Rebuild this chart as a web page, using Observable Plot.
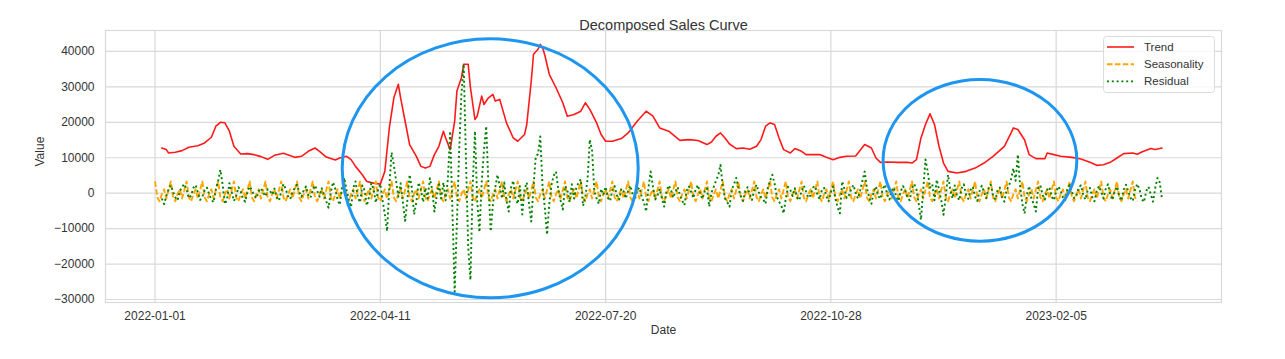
<!DOCTYPE html>
<html>
<head>
<meta charset="utf-8">
<script src="https://cdn.jsdelivr.net/npm/d3@7"></script>
<script src="https://cdn.jsdelivr.net/npm/@observablehq/plot@0.6"></script>
<style>
  body { margin: 0; background: #fff; }
  #chart { width: 1285px; height: 359px; }
</style>
</head>
<body>
<div id="chart"></div>
<script>
// ---------------- DATA ----------------
const startDate = "2022-01-01";
const chartTitle = "Decomposed Sales Curve";
const xLabel = "Date";
const yLabel = "Value";
const xTickLabels = ["2022-01-01", "2022-04-11", "2022-07-20", "2022-10-28", "2023-02-05"];
const yTicks = [-30000, -20000, -10000, 0, 10000, 20000, 30000, 40000];
const seriesNames = ["Trend", "Seasonality", "Residual"];
const seriesColors = ["red", "orange", "green"];

// Trend: day offset from startDate and value
const trendDay = [3, 5, 6, 9, 12, 15, 19, 22, 25, 27, 29, 31, 33, 35, 38, 41, 44, 47, 50, 53,
  57, 62, 65, 68, 71, 73, 76, 80, 82, 85, 87, 89, 92, 94, 97, 100, 102, 104, 106, 108,
  109, 111, 113, 116, 118, 120, 122, 124, 126, 128, 129, 131, 133, 134, 136, 137, 139, 140, 142, 143,
  145, 146, 148, 150, 151, 153, 156, 159, 161, 164, 165, 167, 168, 170, 171, 172, 173, 175, 178, 181,
  183, 186, 189, 191, 193, 196, 198, 200, 203, 207, 210, 214, 218, 221, 224, 228, 233, 237, 241, 245,
  247, 249, 251, 253, 255, 258, 261, 264, 267, 269, 271, 273, 275, 277, 279, 282, 284, 287, 289, 295,
  298, 301, 304, 307, 311, 315, 318, 320, 322, 325, 330, 334, 336, 338, 340, 342, 344, 346, 348, 350,
  352, 356, 360, 364, 368, 372, 377, 380, 381, 383, 386, 388, 391, 395, 396, 399, 402, 407, 411, 415,
  418, 421, 424, 427, 430, 434, 436, 438, 442, 444, 447];
const trendValue = [12750, 12300, 11330, 11530, 12000, 12950, 13400, 14170, 15780, 18900, 20000, 19850, 17480, 13230, 11050, 11150, 10870, 10310, 9550, 10680,
  11250, 10110, 10400, 11810, 12750, 11810, 10200, 9350, 9920, 10400, 9460, 7560, 5210, 3310, 2830, 2550, 6150, 18400, 26900, 30700,
  26900, 20300, 13700, 10400, 7560, 7080, 7560, 10880, 13230, 17480, 15580, 12290, 20300, 28800, 32580, 36370, 36370, 29750, 20790, 21730,
  27390, 25040, 26910, 27870, 25980, 26460, 19830, 15580, 14650, 16540, 19380, 31640, 39200, 40620, 42000, 41000, 39000, 33540, 29750, 25500,
  21730, 22210, 23140, 25500, 23630, 19830, 16540, 14650, 14650, 15410, 17000, 20310, 23140, 21730, 18410, 17480, 14900, 15120, 14840, 13710,
  14450, 16060, 17000, 15580, 13880, 12580, 12750, 12380, 13230, 15120, 18900, 19830, 19380, 15580, 12290, 11330, 12580, 11810, 10880, 10880,
  10110, 9460, 10110, 10400, 10500, 13710, 12750, 9920, 8700, 8780, 8700, 8700, 8500, 9460, 15580, 19380, 22380, 19380, 13230, 8500,
  6150, 5670, 6150, 7080, 8500, 10400, 13230, 17000, 18410, 17960, 15000, 10880, 9750, 9700, 11330, 10880, 10400, 10110, 9630, 8700,
  7850, 8040, 8700, 9920, 11160, 11330, 11000, 11610, 12580, 12300, 12750];

// Seasonality: one value per day, days 0..450 (weekly pattern)
const seasonality = [
  3300,-1200,-2300,-300,1100,-1500,900, 3300,-1200,-2300,-300,1100,-1500,900,
  3300,-1200,-2300,-300,1100,-1500,900, 3300,-1200,-2300,-300,1100,-1500,900,
  3300,-1200,-2300,-300,1100,-1500,900, 3300,-1200,-2300,-300,1100,-1500,900,
  3300,-1200,-2300,-300,1100,-1500,900, 3300,-1200,-2300,-300,1100,-1500,900,
  3300,-1200,-2300,-300,1100,-1500,900, 3300,-1200,-2300,-300,1100,-1500,900,
  3300,-1200,-2300,-300,1100,-1500,900, 3300,-1200,-2300,-300,1100,-1500,900,
  3300,-1200,-2300,-300,1100,-1500,900, 3300,-1200,-2300,-300,1100,-1500,900,
  3300,-1200,-2300,-300,1100,-1500,900, 3300,-1200,-2300,-300,1100,-1500,900,
  3300,-1200,-2300,-300,1100,-1500,900, 3300,-1200,-2300,-300,1100,-1500,900,
  3300,-1200,-2300,-300,1100,-1500,900, 3300,-1200,-2300,-300,1100,-1500,900,
  3300,-1200,-2300,-300,1100,-1500,900, 3300,-1200,-2300,-300,1100,-1500,900,
  3300,-1200,-2300,-300,1100,-1500,900, 3300,-1200,-2300,-300,1100,-1500,900,
  3300,-1200,-2300,-300,1100,-1500,900, 3300,-1200,-2300,-300,1100,-1500,900,
  3300,-1200,-2300,-300,1100,-1500,900, 3300,-1200,-2300,-300,1100,-1500,900,
  3300,-1200,-2300,-300,1100,-1500,900, 3300,-1200,-2300,-300,1100,-1500,900,
  3300,-1200,-2300,-300,1100,-1500,900, 3300,-1200,-2300,-300,1100,-1500,900,
  3300,-1200,-2300,-300,1100,-1500,900, 3300,-1200,-2300,-300,1100,-1500,900,
  3300,-1200,-2300,-300,1100,-1500,900, 3300,-1200,-2300,-300,1100,-1500,900,
  3300,-1200,-2300,-300,1100,-1500,900, 3300,-1200,-2300,-300,1100,-1500,900,
  3300,-1200,-2300,-300,1100,-1500,900, 3300,-1200,-2300,-300,1100,-1500,900,
  3300,-1200,-2300,-300,1100,-1500,900, 3300,-1200,-2300,-300,1100,-1500,900,
  3300,-1200,-2300,-300,1100,-1500,900, 3300,-1200,-2300,-300,1100,-1500,900,
  3300,-1200,-2300,-300,1100,-1500,900, 3300,-1200,-2300,-300,1100,-1500,900,
  3300,-1200,-2300,-300,1100,-1500,900, 3300,-1200,-2300,-300,1100,-1500,900,
  3300,-1200,-2300,-300,1100,-1500,900, 3300,-1200,-2300,-300,1100,-1500,900,
  3300,-1200,-2300,-300,1100,-1500,900, 3300,-1200,-2300,-300,1100,-1500,900,
  3300,-1200,-2300,-300,1100,-1500,900, 3300,-1200,-2300,-300,1100,-1500,900,
  3300,-1200,-2300,-300,1100,-1500,900, 3300,-1200,-2300,-300,1100,-1500,900,
  3300,-1200,-2300,-300,1100,-1500,900, 3300,-1200,-2300,-300,1100,-1500,900,
  3300,-1200,-2300,-300,1100,-1500,900, 3300,-1200,-2300,-300,1100,-1500,900,
  3300,-1200,-2300,-300,1100,-1500,900, 3300,-1200,-2300,-300,1100,-1500,900,
  3300,-1200,-2300
];

// Residual: one value per day, starting at day 3 (through day 447)
const residualStartDay = 3;
const residual = [
  -1500, -3100, -800, 1200, 2200, 400, -1200, -2000, 600, 1800,
  2600, 900, -1400, -700, 1500, 2300, 200, -1900, -1000, 800,
  1600, -300, -1800, -2600, 1200, 3500, 6600, 2400, -3100, -1500,
  2800, 400, -2200, -900, 1700, 600, -1600, -2400, 300, 1900,
  800, -600, -1400, 500, 1400, 200, -900, 1100, 700, -400,
  1300, -1100, -2100, 400, 2600, 1200, -800, -1700, 200, 1500,
  2400, 300, -1000, 800, 1900, -500, -1300, 1000, 2200, 600,
  -1000, 1400, -400, -2300, -4100, 200, 3100, 1200, -1800, -3300,
  1800, 4400, 900, -1700, -3900, 1500, 3300, -1200, -2600, 2200,
  800, -3500, -1000, 2800, 1200, -2700, 900, 2600, -2000, -6000,
  -10700, 2000, 11500, 8000, 3500, -1000, 2800, -2500, -7800, -2000,
  5200, 1500, -6000, -2500, 3000, 1000, -2500, 1500, -1500, 4200,
  1000, -5200, -1000, 2500, -1500, 3000, -2000, 4000, 17500, -5000,
  -27800, -8000, 12000, 28000, 36400, 10000, -15000, -24500, 2000, 17500,
  -2000, -11000, 3000, 12000, 18900, 2000, -10800, -3000, 1500, 5200,
  2000, -1500, 3000, -2000, -5200, 1500, 3500, -1500, -3000, 2000,
  -6000, 1000, 3000, -3000, -8000, 2000, 10400, 11000, 16000, 2000,
  -4000, -11700, -3000, 2500, 5000, 6100, 1000, -2000, -4600, 2000,
  1000, -2500, 2500, -1500, 1500, 3000, 3900, -3600, -1000, 4000,
  15100, 12000, 500, -1500, -3000, 1200, -500, 1800, -1200, -2200,
  900, 2000, -600, -1800, 1300, 500, -1500, 700, 2100, -300,
  -1900, 800, 1600, -1000, -2600, -5200, 1500, 6100, 2000, -1800,
  -800, 1200, -1500, -3800, 500, 2200, 900, -1300, 400, 1700,
  -600, -2100, -3400, 700, 1900, 300, -1400, 1100, 2300, -200,
  -1600, 600, 1400, -3800, 200, 1800, 3500, 5000, 8000, 2000,
  -1500, -2500, -3800, 1000, 2500, 4300, 1200, -800, -2200, 600,
  1700, -500, -1900, 1000, 2400, 300, -1200, -1800, -3000, 1500,
  3500, 5200, 2800, -1000, -2400, -3500, -5700, -1500, 1800, 900,
  -800, 1400, -1200, -2000, 700, 2100, 400, -1300, -600, 1600,
  2000, -400, -1700, 900, 1500, -900, -2300, 300, 1900, -1500,
  -4000, -5700, 3300, 1200, -1400, -600, 1100, 2300, 100, -1500,
  800, 3500, 6100, 1500, -1200, -3000, 400, 1900, -800, -1600,
  1200, 2400, -300, -1800, 700, 1600, -1100, -2200, 500, 2000,
  900, -1300, -2000, 1400, 2600, 1000, -3000, -7500, 1000, 9500,
  6000, 1500, 2500, -2000, 3800, 1000, -2000, -6100, -1000, 5200,
  1000, -1500, 2200, -800, -2000, 1300, 2500, -400, -1600, 900,
  1800, -1000, -2200, 600, 2100, 200, -1400, 1500, 2400, -700,
  -1800, 800, 1600, -1200, -2400, 1000, 2000, 4000, 7000, 3500,
  10900, 2000, -3000, -5700, -500, 2000, -1500, -3000, -5200, 1500,
  2200, -600, -1800, 900, 1700, -1000, -2000, 500, 1900, 700,
  -1200, -2000, 1100, 2300, 400, -1400, -700, 1600, 2200, -500,
  -1800, 800, 1500, -1100, -2300, 600, 2000, 300, -1500, 1200,
  2500, -400, -1900, 700, 1800, -900, -2100, 1000, 2400, 500,
  -1300, -2200, 900, 2600, 1100, -1700, -2500, 600, 1800, -300,
  -2400, 1500, 4300, 3000, -1800
];

// Blue hand-drawn highlight ellipses (data units: days and values)
const highlightCenterDay = [149, 366.4];
const highlightCenterValue = [6860, 9120];
const highlightRadiusDays = [65.7, 43];
const highlightRadiusValue = [36540, 22800];

// ---------------- BUILD ----------------
const DAY = 864e5;
const t0 = Date.parse(startDate + "T00:00:00Z");
const dayToDate = d => new Date(t0 + d * DAY);

const trendData = trendDay.map((d, i) => ({date: dayToDate(d), value: trendValue[i]}));
const seasonData = seasonality.map((v, i) => ({date: dayToDate(i), value: v}));
const residData = residual.map((v, i) => ({date: dayToDate(residualStartDay + i), value: v}));
const xTicks = xTickLabels.map(s => new Date(s + "T00:00:00Z"));

const gridColor = "#d9d9d9";
const textColor = "#333333";
const fontFamily = "'Liberation Sans', Arial, Helvetica, sans-serif";
const fmtY = d => (d < 0 ? "\u2212" + Math.abs(d) : String(d));
const seasonDash = "5.5,2.4";
const residDash = "2,2.8";

const plot = Plot.plot({
  width: 1285,
  height: 359,
  marginLeft: 105,
  marginRight: 64,
  marginTop: 30,
  marginBottom: 57,
  style: {fontFamily, fontSize: "12px", color: textColor, background: "#fff"},
  x: {type: "utc", domain: [dayToDate(-22), dayToDate(473.4)]},
  y: {domain: [-30850, 45900]},
  marks: [
    Plot.gridX(xTicks, {stroke: gridColor, strokeOpacity: 1, strokeWidth: 1.2}),
    Plot.gridY(yTicks, {stroke: gridColor, strokeOpacity: 1, strokeWidth: 1.2}),
    Plot.frame({stroke: gridColor, strokeWidth: 1.2}),
    Plot.axisX(xTicks, {tickSize: 0, tickPadding: 9, tickFormat: d3.utcFormat("%Y-%m-%d"), label: null}),
    Plot.axisY(yTicks, {tickSize: 0, tickPadding: 11, tickFormat: fmtY, label: null}),
    Plot.lineY(trendData, {x: "date", y: "value", stroke: seriesColors[0], strokeWidth: 1.6, strokeOpacity: 0.9}),
    Plot.lineY(seasonData, {x: "date", y: "value", stroke: seriesColors[1], strokeWidth: 1.9,
      strokeDasharray: seasonDash, strokeLinecap: "butt"}),
    Plot.lineY(residData, {x: "date", y: "value", stroke: seriesColors[2], strokeWidth: 1.9,
      strokeDasharray: residDash, strokeLinecap: "butt"}),
    Plot.text([chartTitle], {text: d => d, frameAnchor: "top", dy: -11, fontSize: 14.5, fill: textColor}),
    Plot.text([xLabel], {text: d => d, frameAnchor: "bottom", dy: 31, fontSize: 12, fill: textColor}),
    Plot.text([yLabel], {text: d => d, frameAnchor: "left", dx: -65, rotate: -90, fontSize: 12, fill: textColor})
  ]
});

document.getElementById("chart").appendChild(plot);

const svg = d3.select(plot);
const sx = plot.scale("x");
const sy = plot.scale("y");

// Legend (upper right, inside the axes)
const lg = svg.append("g").attr("font-family", fontFamily).attr("font-size", 11.5).attr("text-anchor", "start");
lg.append("rect")
  .attr("x", 1103.5).attr("y", 36.5).attr("width", 111).attr("height", 56).attr("rx", 3)
  .attr("fill", "#fff").attr("fill-opacity", 0.8).attr("stroke", "#dcdcdc");
const dashes = [null, seasonDash, residDash];
seriesNames.forEach((name, i) => {
  const y = 47 + i * 17.2;
  lg.append("line")
    .attr("x1", 1107).attr("x2", 1134).attr("y1", y).attr("y2", y)
    .attr("stroke", seriesColors[i]).attr("stroke-width", i === 0 ? 1.6 : 1.9)
    .attr("stroke-opacity", i === 0 ? 0.9 : 1)
    .attr("stroke-dasharray", dashes[i]);
  lg.append("text").attr("x", 1144).attr("y", y).attr("dy", "0.35em")
    .attr("text-anchor", "start").attr("fill", textColor).text(name);
});

// Highlight ellipses
highlightCenterDay.forEach((cd, i) => {
  const cx = sx.apply(dayToDate(cd));
  const rx = sx.apply(dayToDate(cd + highlightRadiusDays[i])) - cx;
  const cy = sy.apply(highlightCenterValue[i]);
  const ry = sy.apply(highlightCenterValue[i] - highlightRadiusValue[i]) - cy;
  svg.append("ellipse")
    .attr("cx", cx).attr("cy", cy).attr("rx", rx).attr("ry", ry)
    .attr("fill", "none").attr("stroke", "#1e96f0").attr("stroke-width", 3);
});
</script>
</body>
</html>
